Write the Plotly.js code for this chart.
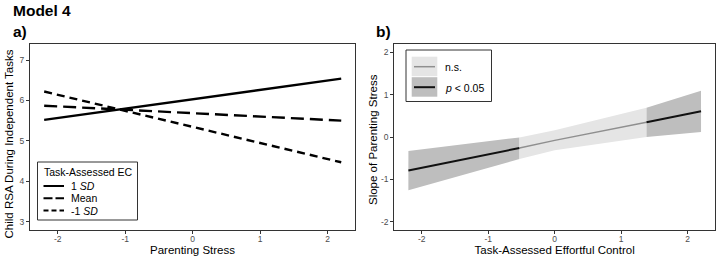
<!DOCTYPE html>
<html>
<head>
<meta charset="utf-8">
<script src="https://cdn.plot.ly/plotly-3.0.1.min.js"></script>
<style>html,body{margin:0;padding:0;background:#fff;}#chart{width:720px;height:259px;}</style>
</head>
<body>
<div id="chart"></div>
<script>
// ---- Panel a: simple slopes ----
var stressX = [-2.2, 2.2];
var ecHigh = [5.52, 6.54];
var ecMean = [5.87, 5.50];
var ecLow = [6.22, 4.47];
var groupNames = ['1 <i>SD</i>', 'Mean', '-1 <i>SD</i>'];

// ---- Panel b: Johnson-Neyman slope plot ----
var ecX = [-2.2, -0.53, 0, 1.38, 2.2];
var slopeFit = [-0.79, -0.26, -0.08, 0.35, 0.61];
var slopeLo = [-1.26, -0.52, -0.31, 0.0, 0.12];
var slopeHi = [-0.33, -0.01, 0.16, 0.69, 1.09];
// index ranges of regions: significant / not significant
var regions = [
  {from: 0, to: 1, sig: true},
  {from: 1, to: 3, sig: false},
  {from: 3, to: 4, sig: true}
];
var tickVals = [-2, -1, 0, 1, 2];
var tickText = ['-2', '-1', '0', '1', '2'];
var yTicksA = [3, 4, 5, 6, 7];
var yTicksB = [-2, -1, 0, 1, 2];
var legendB = ['n.s.', '<i>p</i> < 0.05'];

var FONT = 'Liberation Sans, Arial, Helvetica, sans-serif';
var DARK_BAND = '#bebebe', LIGHT_BAND = '#e5e5e5';
var NS_LINE = '#8f8f8f', SIG_LINE = '#111111';

var traces = [];
traces.push({x: stressX, y: ecHigh, type: 'scatter', mode: 'lines', xaxis: 'x', yaxis: 'y',
  line: {color: '#000', width: 2.4}, showlegend: false, hoverinfo: 'skip'});
traces.push({x: stressX, y: ecMean, type: 'scatter', mode: 'lines', xaxis: 'x', yaxis: 'y',
  line: {color: '#000', width: 2.4, dash: '13px,6px'}, showlegend: false, hoverinfo: 'skip'});
traces.push({x: stressX, y: ecLow, type: 'scatter', mode: 'lines', xaxis: 'x', yaxis: 'y',
  line: {color: '#000', width: 2.4, dash: '8px,5px'}, showlegend: false, hoverinfo: 'skip'});

regions.forEach(function (r) {
  var xs = ecX.slice(r.from, r.to + 1);
  var hi = slopeHi.slice(r.from, r.to + 1);
  var lo = slopeLo.slice(r.from, r.to + 1);
  traces.push({
    x: xs.concat(xs.slice().reverse()),
    y: hi.concat(lo.slice().reverse()),
    type: 'scatter', mode: 'lines', fill: 'toself', xaxis: 'x2', yaxis: 'y2',
    fillcolor: r.sig ? DARK_BAND : LIGHT_BAND, line: {width: 0}, showlegend: false, hoverinfo: 'skip'
  });
});
regions.forEach(function (r) {
  traces.push({
    x: ecX.slice(r.from, r.to + 1), y: slopeFit.slice(r.from, r.to + 1),
    type: 'scatter', mode: 'lines', xaxis: 'x2', yaxis: 'y2',
    line: {color: r.sig ? SIG_LINE : NS_LINE, width: r.sig ? 2 : 1.5}, showlegend: false, hoverinfo: 'skip'
  });
});

function px(v) { return v / 720; }
function py(v) { return 1 - v / 259; }

var axisCommon = {
  showline: true, mirror: true, linecolor: '#333', linewidth: 1,
  ticks: 'outside', ticklen: 3, tickwidth: 1, tickcolor: '#333',
  showgrid: false, zeroline: false,
  tickfont: {family: FONT, size: 8.5, color: '#4d4d4d'}
};
function ax(extra) { return Object.assign({}, axisCommon, extra); }

var shapes = [], annotations = [];
// panel a legend (drawn in paper space)
shapes.push({type: 'rect', xref: 'paper', yref: 'paper', x0: px(37.5), x1: px(137.5), y0: py(220), y1: py(162),
  line: {color: '#333', width: 1}, fillcolor: '#fff', layer: 'above'});
annotations.push({xref: 'paper', yref: 'paper', x: px(42), y: py(171.5), xanchor: 'left', yanchor: 'middle',
  text: 'Task-Assessed EC', showarrow: false, font: {family: FONT, size: 10.5, color: '#000'}});
var legDash = ['solid', '9px,3px', '5px,3px'];
var legY = [186, 198.3, 210.5];
for (var i = 0; i < 3; i++) {
  shapes.push({type: 'line', xref: 'paper', yref: 'paper', x0: px(43.5), x1: px(64), y0: py(legY[i]), y1: py(legY[i]),
    line: {color: '#000', width: 2, dash: legDash[i]}, layer: 'above'});
  annotations.push({xref: 'paper', yref: 'paper', x: px(68.5), y: py(legY[i]), xanchor: 'left', yanchor: 'middle',
    text: groupNames[i], showarrow: false, font: {family: FONT, size: 10.5, color: '#000'}});
}
// panel b legend
shapes.push({type: 'rect', xref: 'paper', yref: 'paper', x0: px(406), x1: px(491.5), y0: py(101.5), y1: py(50),
  line: {color: '#333', width: 1}, fillcolor: '#fff', layer: 'above'});
var swFill = [LIGHT_BAND, DARK_BAND], swLine = [NS_LINE, SIG_LINE];
var swTop = [56.7, 77.2];
for (var j = 0; j < 2; j++) {
  shapes.push({type: 'rect', xref: 'paper', yref: 'paper', x0: px(411.7), x1: px(437.3), y0: py(swTop[j] + 19.5), y1: py(swTop[j]),
    line: {width: 0}, fillcolor: swFill[j], layer: 'above'});
  shapes.push({type: 'line', xref: 'paper', yref: 'paper', x0: px(414), x1: px(435), y0: py(swTop[j] + 10), y1: py(swTop[j] + 10),
    line: {color: swLine[j], width: j ? 2 : 1.5}, layer: 'above'});
  annotations.push({xref: 'paper', yref: 'paper', x: px(443), y: py(swTop[j] + 10.5), xanchor: 'left', yanchor: 'middle',
    text: legendB[j], showarrow: false, font: {family: FONT, size: 10.5, color: '#000'}});
}
// headings
annotations.push({xref: 'paper', yref: 'paper', x: px(11), y: py(10.5), xanchor: 'left', yanchor: 'middle',
  text: '<b>Model 4</b>', showarrow: false, font: {family: FONT, size: 15.5, color: '#000'}});
annotations.push({xref: 'paper', yref: 'paper', x: px(11), y: py(32), xanchor: 'left', yanchor: 'middle',
  text: '<b>a)</b>', showarrow: false, font: {family: FONT, size: 15.5, color: '#000'}});
annotations.push({xref: 'paper', yref: 'paper', x: px(374), y: py(32), xanchor: 'left', yanchor: 'middle',
  text: '<b>b)</b>', showarrow: false, font: {family: FONT, size: 15.5, color: '#000'}});

var titleFont = {family: FONT, size: 11.5, color: '#000'};
// y-axis titles (placed as rotated annotations to match the original offset)
annotations.push({xref: 'paper', yref: 'paper', x: px(8.5), y: py(144), xanchor: 'center', yanchor: 'middle',
  textangle: -90, text: 'Child RSA During Independent Tasks', showarrow: false, font: titleFont});
annotations.push({xref: 'paper', yref: 'paper', x: px(373), y: py(140), xanchor: 'center', yanchor: 'middle',
  textangle: -90, text: 'Slope of Parenting Stress', showarrow: false, font: titleFont});

var layout = {
  width: 720, height: 259,
  margin: {l: 0, r: 0, t: 0, b: 0, pad: 0},
  paper_bgcolor: '#fff', plot_bgcolor: '#fff',
  showlegend: false,
  xaxis: ax({domain: [px(30), px(355)], range: [-2.41, 2.404], tickvals: tickVals, ticktext: tickText,
    ticklabelstandoff: -2,
    title: {text: 'Parenting Stress', font: titleFont, standoff: 0}, anchor: 'y'}),
  yaxis: ax({domain: [py(229.5), py(44)], range: [2.807, 7.396], tickvals: yTicksA, ticktext: yTicksA.map(String),
    anchor: 'x'}),
  xaxis2: ax({domain: [px(394.3), px(715)], range: [-2.412, 2.41], tickvals: tickVals, ticktext: tickText,
    ticklabelstandoff: -2,
    title: {text: 'Task-Assessed Effortful Control', font: titleFont, standoff: 0}, anchor: 'y2'}),
  yaxis2: ax({domain: [py(229.5), py(44)], range: [-2.184, 2.196], tickvals: yTicksB, ticktext: tickText,
    anchor: 'x2'}),
  shapes: shapes,
  annotations: annotations
};

Plotly.newPlot('chart', traces, layout, {displayModeBar: false, staticPlot: true});
</script>
</body>
</html>
